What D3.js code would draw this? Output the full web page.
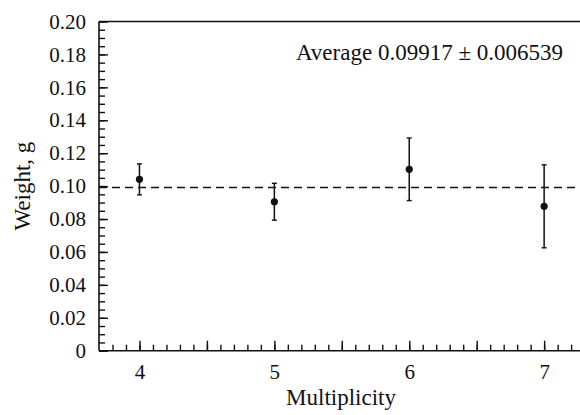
<!DOCTYPE html>
<html>
<head>
<meta charset="utf-8">
<script src="https://cdn.jsdelivr.net/npm/d3@7"></script>
<style>
  html, body { margin: 0; padding: 0; background: #fff; }
  svg { display: block; }
</style>
</head>
<body>
<svg id="chart" width="580" height="415" font-family="Liberation Serif"></svg>
<script>
// ---- data ----
const multiplicity = [4, 5, 6, 7];
const weight = [0.1041, 0.0905, 0.1102, 0.0877];
const weightErr = [0.0094, 0.0112, 0.0190, 0.0252];
const averageValue = 0.09917;
const averageErr = 0.006539;
const xTickValues = [4, 5, 6, 7];
const xTickLabels = ["4", "5", "6", "7"];
const yTickValues = [0, 0.02, 0.04, 0.06, 0.08, 0.10, 0.12, 0.14, 0.16, 0.18, 0.20];
const yTickLabels = ["0", "0.02", "0.04", "0.06", "0.08", "0.10", "0.12", "0.14", "0.16", "0.18", "0.20"];
const xLabel = "Multiplicity";
const yLabel = "Weight, g";
const annotation = "Average 0.09917 \u00B1 0.006539";

// ---- layout ----
const svg = d3.select("#chart");
const FONT = "Liberation Serif";
const mLeft = 99, mRight = 584.6, mTop = 21.5, mBottom = 350.7;
const x = d3.scaleLinear().domain([3.7, 7.3]).range([mLeft, mRight]);
const y = d3.scaleLinear().domain([0, 0.2]).range([mBottom, mTop]);
const ink = "#111";

// minor/major ticks
const xMinor = d3.range(38, 73).map(d => d / 10);
const xMajor = d3.range(8, 15).map(d => d / 2);
const yMinor = d3.range(0, 41).map(d => d * 0.005);

const gx = svg.append("g").attr("transform", `translate(0,${mBottom})`);
gx.call(d3.axisBottom(x).tickValues(xMinor).tickSize(-6).tickFormat(""))
  .call(g => g.select(".domain").remove());
gx.append("g").call(d3.axisBottom(x).tickValues(xMajor).tickSize(-10).tickFormat(""))
  .call(g => g.select(".domain").remove());
gx.append("g").call(d3.axisBottom(x).tickValues(xTickValues).tickSize(0).tickPadding(13)
    .tickFormat((d, i) => xTickLabels[i]))
  .call(g => g.select(".domain").remove());
gx.selectAll("g").attr("font-family", FONT);
gx.attr("font-family", FONT);
gx.selectAll("line").attr("stroke", ink).attr("stroke-width", 1.4);
gx.selectAll("text").attr("font-size", 21).attr("fill", ink).attr("font-family", FONT);

const gy = svg.append("g").attr("transform", `translate(${mLeft},0)`);
gy.call(d3.axisLeft(y).tickValues(yMinor).tickSize(-6).tickFormat(""))
  .call(g => g.select(".domain").remove());
gy.append("g").call(d3.axisLeft(y).tickValues(yTickValues).tickSize(-9).tickPadding(0)
    .tickFormat(""))
  .call(g => g.select(".domain").remove());
gy.append("g").call(d3.axisLeft(y).tickValues(yTickValues).tickSize(0).tickPadding(13)
    .tickFormat((d, i) => yTickLabels[i]))
  .call(g => g.select(".domain").remove());
gy.selectAll("g").attr("font-family", FONT);
gy.attr("font-family", FONT);
gy.selectAll("line").attr("stroke", ink).attr("stroke-width", 1.4);
gy.selectAll("text").attr("font-size", 21).attr("fill", ink).attr("font-family", FONT);

// frame lines
svg.append("line").attr("x1", mLeft).attr("x2", mRight).attr("y1", mBottom).attr("y2", mBottom)
  .attr("stroke", ink).attr("stroke-width", 1.6);
svg.append("line").attr("x1", mLeft).attr("x2", mLeft).attr("y1", mTop).attr("y2", mBottom)
  .attr("stroke", ink).attr("stroke-width", 1.6);
svg.append("line").attr("x1", mLeft).attr("x2", mRight).attr("y1", y(0.2)).attr("y2", y(0.2))
  .attr("stroke", ink).attr("stroke-width", 1.6);

// average dashed line
svg.append("line").attr("x1", mLeft).attr("x2", mRight)
  .attr("y1", y(averageValue)).attr("y2", y(averageValue))
  .attr("stroke", ink).attr("stroke-width", 1.4).attr("stroke-dasharray", "8,5");

// error bars
const pts = multiplicity.map((m, i) => ({ m, w: weight[i], e: weightErr[i] }));
const eb = svg.append("g");
eb.selectAll("line.v").data(pts).join("line").attr("class", "v")
  .attr("x1", d => x(d.m)).attr("x2", d => x(d.m))
  .attr("y1", d => y(d.w - d.e)).attr("y2", d => y(d.w + d.e))
  .attr("stroke", ink).attr("stroke-width", 1.5);
eb.selectAll("line.t").data(pts).join("line").attr("class", "t")
  .attr("x1", d => x(d.m) - 2.5).attr("x2", d => x(d.m) + 2.5)
  .attr("y1", d => y(d.w + d.e)).attr("y2", d => y(d.w + d.e))
  .attr("stroke", ink).attr("stroke-width", 1.4);
eb.selectAll("line.b").data(pts).join("line").attr("class", "b")
  .attr("x1", d => x(d.m) - 2.5).attr("x2", d => x(d.m) + 2.5)
  .attr("y1", d => y(d.w - d.e)).attr("y2", d => y(d.w - d.e))
  .attr("stroke", ink).attr("stroke-width", 1.4);
svg.append("g").selectAll("circle").data(pts).join("circle")
  .attr("cx", d => x(d.m)).attr("cy", d => y(d.w)).attr("r", 3.6).attr("fill", ink);

// texts
svg.append("text").attr("x", 563).attr("y", 60).attr("text-anchor", "end")
  .attr("font-family", FONT).attr("font-size", 23).attr("fill", ink).text(annotation);
svg.append("text").attr("x", 341).attr("y", 405).attr("text-anchor", "middle")
  .attr("font-family", FONT).attr("font-size", 23).attr("fill", ink).text(xLabel);
svg.append("text").attr("transform", `translate(30,${(mTop + mBottom) / 2}) rotate(-90)`)
  .attr("text-anchor", "middle").attr("font-family", FONT).attr("font-size", 23)
  .attr("fill", ink).text(yLabel);
</script>
</body>
</html>
